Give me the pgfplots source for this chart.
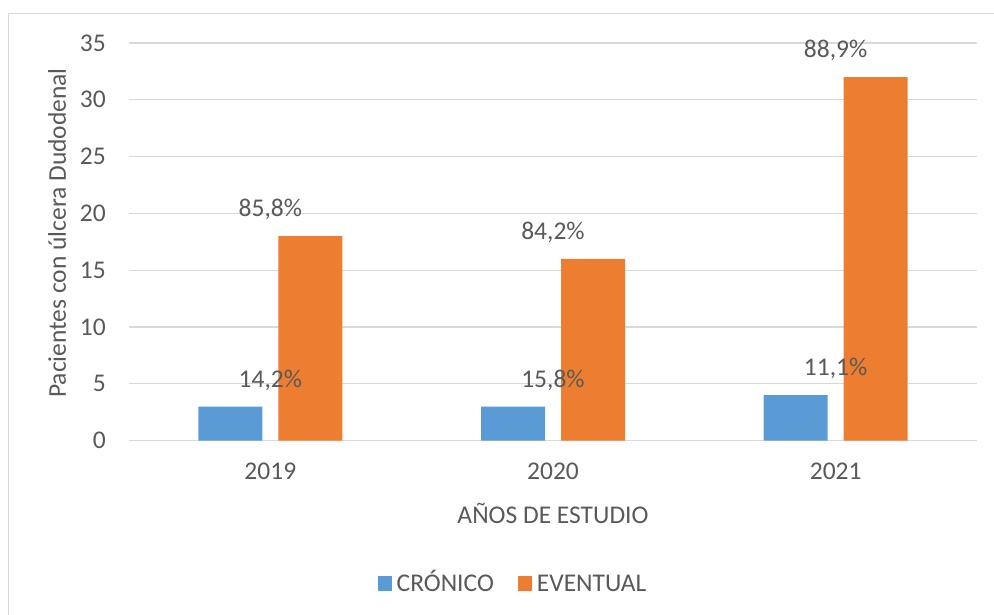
\documentclass[border=0pt]{standalone}
\usepackage{fontspec}
\setmainfont{Carlito}
\usepackage{pgfplots}
\pgfplotsset{compat=1.18}
\definecolor{cblue}{RGB}{91,155,213}
\definecolor{corange}{RGB}{237,125,49}
\definecolor{txt}{RGB}{89,89,89}
\definecolor{grid}{RGB}{217,217,217}
\newcommand{\cf}{\fontsize{25.5}{30}\selectfont}
\begin{document}
\begin{tikzpicture}
\useasboundingbox (0pt,0pt) rectangle (994pt,615pt);
% chart frame (only top and left edges are inside the crop)
\draw[grid, line width=1pt] (8.3pt,0pt) -- (8.3pt,601.7pt) -- (994pt,601.7pt);
\begin{axis}[
  at={(129pt,174.3pt)}, anchor=south west,
  scale only axis, width=848pt, height=397.7pt,
  xmin=-0.5, xmax=2.5, ymin=0, ymax=35,
  xtick={0,1,2}, xticklabels={2019,2020,2021},
  ytick={0,5,...,35},
  major tick length=0pt,
  axis line style={draw=none},
  ymajorgrids, major grid style={draw=grid, line width=1.2pt},
  /pgf/number format/assume math mode=true,
  tick label style={font=\cf, text=txt, inner sep=0pt},
  yticklabel style={anchor=east, xshift=-23pt},
  xticklabel style={anchor=base, yshift=-39pt},
  label style={font=\cf, text=txt, inner sep=0pt},
  xlabel={AÑOS DE ESTUDIO},
  xlabel style={at={(rel axis cs:0.5,-0.207)}, anchor=base},
  ylabel={Pacientes con úlcera Dudodenal},
  ylabel style={at={(rel axis cs:-0.0743,0.5223)}, anchor=base, rotate=0},
  nodes near coords, point meta=explicit symbolic,
  nodes near coords style={font=\cf, text=txt, anchor=base, inner sep=0pt, yshift=19.4pt},
  legend columns=2,
  legend style={at={(rel axis cs:0.4517,-0.354)}, anchor=center,
    draw=none, fill=none, font=\cf, text=txt, inner sep=0pt,
    nodes={inner sep=0pt, anchor=base west},
    /tikz/every odd column/.append style={column sep=5pt},
    /tikz/every even column/.append style={column sep=24pt}},
  legend image code/.code={\fill[#1] (0pt,0pt) rectangle (14pt,15pt);},
]
\addplot[ybar, bar width=64pt, bar shift=-40pt, fill=cblue, draw=none]
  coordinates {(0,3) [14,2\%] (1,3) [15,8\%] (2,4) [11,1\%]};
\addlegendentry{CRÓNICO}
\addplot[ybar, bar width=64pt, bar shift=40pt, fill=corange, draw=none]
  coordinates {(0,18) [85,8\%] (1,16) [84,2\%] (2,32) [88,9\%]};
\addlegendentry{EVENTUAL}
\end{axis}
\end{tikzpicture}
\end{document}
